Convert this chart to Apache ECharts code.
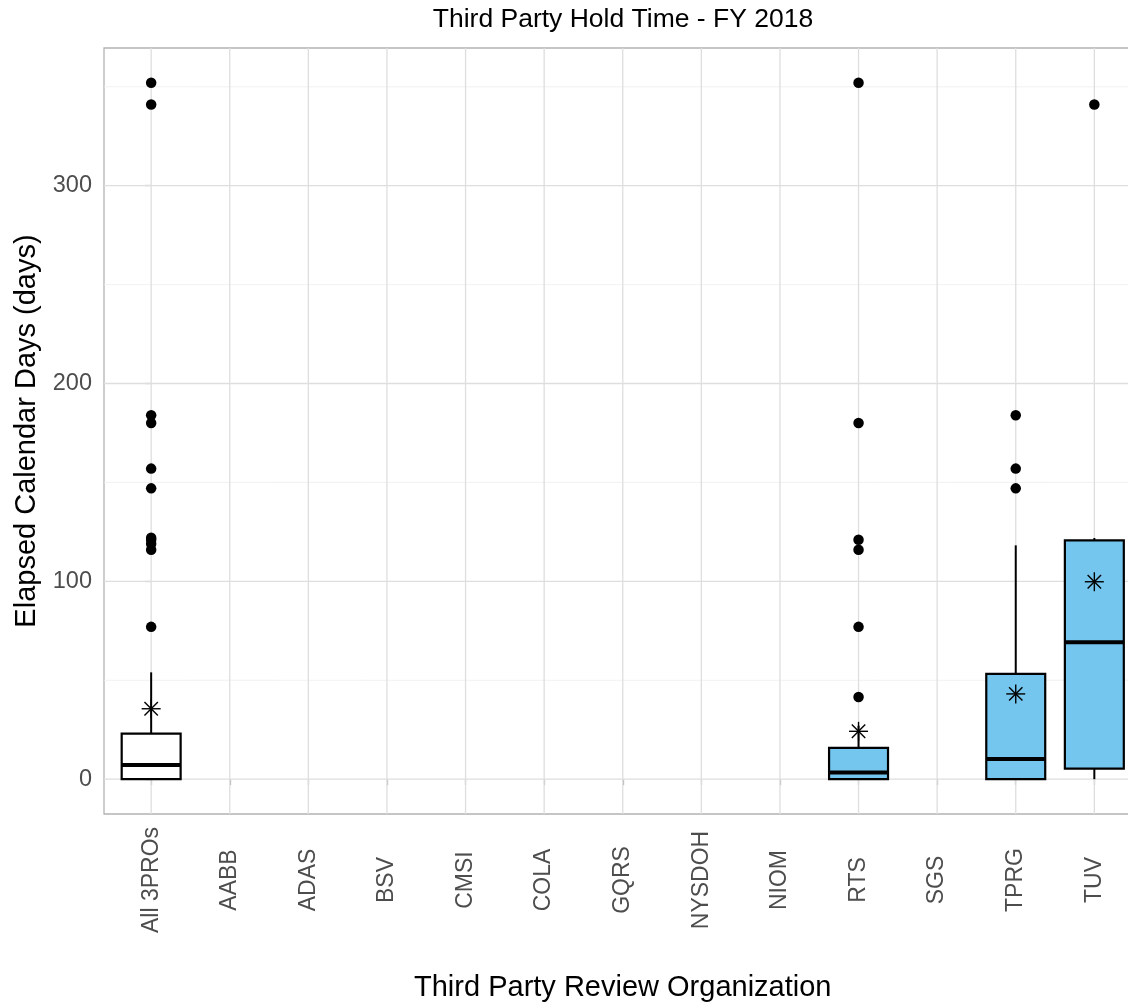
<!DOCTYPE html>
<html>
<head>
<meta charset="utf-8">
<script src="https://cdn.jsdelivr.net/npm/echarts@6/dist/echarts.min.js"></script>
<style>
html,body{margin:0;padding:0;background:#fff;}
#chart{width:1128px;height:1008px;}
</style>
</head>
<body>
<div id="chart"></div>
<script>
// ---- data ----
var categories = ['All 3PROs','AABB','ADAS','BSV','CMSI','COLA','GQRS','NYSDOH','NIOM','RTS','SGS','TPRG','TUV'];
var boxCategories = ['All 3PROs','RTS','TPRG','TUV'];
var whiskerLow  = [0, 0, 0, 0];
var q1Values    = [0, 0, 0, 5.3];
var medianValues= [7.2, 3.4, 10.2, 69.2];
var q3Values    = [23, 15.8, 53.2, 120.7];
var whiskerHigh = [54, 27, 118.2, 121.9];
var meanValues  = [35.6, 24.2, 43.1, 99.8];
var outliersAll  = [352, 341, 184, 180, 157, 147, 122, 121, 119, 116, 77];
var outliersRTS  = [352, 180, 121, 116, 77, 41.5];
var outliersTPRG = [184, 157, 147];
var outliersTUV  = [341];
var yTickLabels = [0, 100, 200, 300];
var yMinorGrid  = [50, 150, 250, 350];

// ---- derived ----
var outlierGroups = [['All 3PROs', outliersAll], ['RTS', outliersRTS], ['TPRG', outliersTPRG], ['TUV', outliersTUV]];
var outlierData = [];
outlierGroups.forEach(function (g) {
  var xi = categories.indexOf(g[0]);
  g[1].forEach(function (v) { outlierData.push([xi, v]); });
});
var boxData = boxCategories.map(function (c, i) {
  return [categories.indexOf(c), whiskerLow[i], q1Values[i], medianValues[i], q3Values[i], whiskerHigh[i]];
});
var meanData = boxCategories.map(function (c, i) { return [categories.indexOf(c), meanValues[i]]; });
var allVals = outlierData.map(function (d) { return d[1]; }).concat(whiskerLow);
var dMin = Math.min.apply(null, allVals), dMax = Math.max.apply(null, allVals);
var pad = (dMax - dMin) * 0.05;
var catIdx = categories.map(function (_, i) { return i; });
var gridLineData = [];
yTickLabels.forEach(function (v) { gridLineData.push(['y', v, 1]); });
yMinorGrid.forEach(function (v) { gridLineData.push(['y', v, 0]); });
catIdx.forEach(function (v) { gridLineData.push(['x', v, 1]); });

var chart = echarts.init(document.getElementById('chart'), null, {renderer: 'canvas'});
var FONT = 'Liberation Sans, Arial, sans-serif';

var option = {
  backgroundColor: '#ffffff',
  animation: false,
  textStyle: {fontFamily: FONT},
  graphic: [{
    type: 'text', x: 623, y: 20, z: 10,
    style: {text: 'Third Party Hold Time - FY 2018', align: 'center', verticalAlign: 'middle',
            font: '26.5px ' + FONT, fill: '#000000'}
  }],
  grid: {left: 104, top: 48, right: -13.5, bottom: 194, show: true, borderColor: '#B3B3B3',
         borderWidth: 1.3, backgroundColor: 'transparent', outerBoundsMode: 'none', containLabel: false},
  xAxis: {
    type: 'value', min: -0.6, max: 12.6,
    name: 'Third Party Review Organization', nameLocation: 'middle', nameGap: 174,
    nameTextStyle: {fontSize: 29, color: '#000000', fontFamily: FONT, verticalAlign: 'middle', align: 'center'},
    axisLine: {show: false},
    axisTick: {show: true, customValues: catIdx, length: 6, lineStyle: {color: '#B3B3B3', width: 1.3}},
    axisLabel: {customValues: catIdx, rotate: 90, align: 'center', verticalAlign: 'middle', margin: 66,
                fontSize: 23, color: '#4D4D4D', fontFamily: FONT,
                formatter: function (v) { return categories[Math.round(v)]; }},
    splitLine: {show: false}
  },
  yAxis: {
    type: 'value', min: dMin - pad, max: dMax + pad,
    name: 'Elapsed Calendar Days (days)', nameLocation: 'middle', nameGap: 76, nameRotate: 90,
    nameTextStyle: {fontSize: 29, color: '#000000', fontFamily: FONT, verticalAlign: 'middle', align: 'center'},
    axisLine: {show: false},
    axisTick: {show: true, customValues: yTickLabels, length: 6, lineStyle: {color: '#B3B3B3', width: 1.3}},
    axisLabel: {customValues: yTickLabels, margin: 12, fontSize: 23.5, color: '#4D4D4D', fontFamily: FONT},
    splitLine: {show: false}
  },
  series: [
    {
      type: 'custom', z: 1, silent: true, data: gridLineData,
      renderItem: function (params, api) {
        var cs = params.coordSys;
        var kind = gridLineData[params.dataIndex][0];
        var v = api.value(1), major = api.value(2);
        var shape;
        if (kind === 'y') {
          var py = api.coord([0, v])[1];
          shape = {x1: cs.x, y1: py, x2: cs.x + cs.width, y2: py};
        } else {
          var px = api.coord([v, 0])[0];
          shape = {x1: px, y1: cs.y, x2: px, y2: cs.y + cs.height};
        }
        return {type: 'line', shape: shape,
                style: {stroke: major ? '#DEDEDE' : '#EDEDED', lineWidth: major ? 1.3 : 0.8}};
      }
    },
    {
      type: 'custom', z: 3, silent: true, data: boxData,
      renderItem: function (params, api) {
        var x = api.value(0);
        var lo = api.value(1), b1 = api.value(2), med = api.value(3), b3 = api.value(4), hi = api.value(5);
        var half = 0.375;
        var pTL = api.coord([x - half, b3]);
        var pBR = api.coord([x + half, b1]);
        var pc = api.coord([x, 0])[0];
        var yHi = api.coord([x, hi])[1], yLo = api.coord([x, lo])[1];
        var yMed = api.coord([x, med])[1];
        var fill = categories[x] === 'All 3PROs' ? '#FFFFFF' : '#74C6EE';
        return {type: 'group', children: [
          {type: 'line', shape: {x1: pc, y1: pTL[1], x2: pc, y2: yHi}, style: {stroke: '#000', lineWidth: 2}},
          {type: 'line', shape: {x1: pc, y1: pBR[1], x2: pc, y2: yLo}, style: {stroke: '#000', lineWidth: 2}},
          {type: 'rect', shape: {x: pTL[0], y: pTL[1], width: pBR[0] - pTL[0], height: pBR[1] - pTL[1]},
           style: {fill: fill, stroke: '#000', lineWidth: 2.2}},
          {type: 'line', shape: {x1: pTL[0], y1: yMed, x2: pBR[0], y2: yMed}, style: {stroke: '#000', lineWidth: 4}}
        ]};
      }
    },
    {
      type: 'scatter', z: 4, silent: true, data: outlierData, symbol: 'circle', symbolSize: 10.5,
      itemStyle: {color: '#000000', opacity: 1}
    },
    {
      type: 'custom', z: 5, silent: true, data: meanData,
      renderItem: function (params, api) {
        var p = api.coord([api.value(0), api.value(1)]);
        var r = 9.5, d = 6.7;
        var st = {stroke: '#000', lineWidth: 1.4};
        return {type: 'group', children: [
          {type: 'line', shape: {x1: p[0] - r, y1: p[1], x2: p[0] + r, y2: p[1]}, style: st},
          {type: 'line', shape: {x1: p[0], y1: p[1] - r, x2: p[0], y2: p[1] + r}, style: st},
          {type: 'line', shape: {x1: p[0] - d, y1: p[1] - d, x2: p[0] + d, y2: p[1] + d}, style: st},
          {type: 'line', shape: {x1: p[0] - d, y1: p[1] + d, x2: p[0] + d, y2: p[1] - d}, style: st}
        ]};
      }
    }
  ]
};
chart.setOption(option);
</script>
</body>
</html>
